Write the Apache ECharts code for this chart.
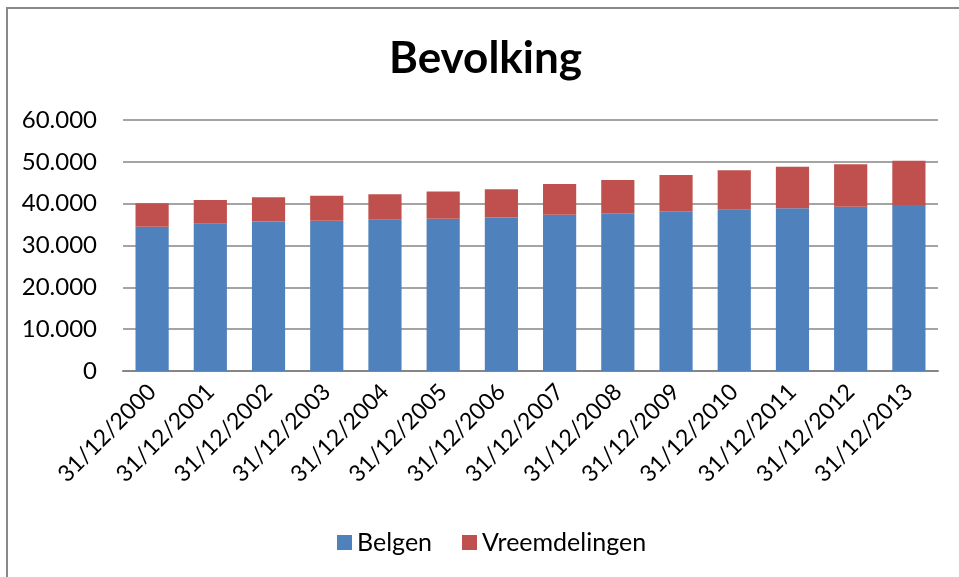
<!DOCTYPE html>
<html>
<head>
<meta charset="utf-8">
<script src="https://cdn.jsdelivr.net/npm/echarts@6/dist/echarts.min.js"></script>
<style>
  html, body { margin: 0; padding: 0; background: #fff; }
  #chart { width: 959px; height: 577px; }
</style>
</head>
<body>
<div id="chart"></div>
<script>
const categories = [
  '31/12/2000', '31/12/2001', '31/12/2002', '31/12/2003', '31/12/2004',
  '31/12/2005', '31/12/2006', '31/12/2007', '31/12/2008', '31/12/2009',
  '31/12/2010', '31/12/2011', '31/12/2012', '31/12/2013'
]
const belgen = [34490, 35210, 35760, 35920, 36160, 36400, 36720, 37370, 37680, 38160, 38570, 38880, 39290, 39670]
const vreemdelingen = [5580, 5660, 5760, 6000, 6080, 6480, 6720, 7340, 7990, 8710, 9430, 9920, 10150, 10570]

const font = 'Lato, "Open Sans", sans-serif'

// thousands separator with a dot, like the original
function fmt(v) {
  return String(v).replace(/\B(?=(\d{3})+(?!\d))/g, '.')
}

const chart = echarts.init(document.getElementById('chart'))

chart.setOption({
  animation: false,
  textStyle: { fontFamily: font },
  title: {
    text: 'Bevolking',
    left: 384,
    top: 32,
    textStyle: { fontSize: 44, fontWeight: 'bold', color: '#000', fontFamily: font },
  },
  graphic: [
    {
      type: 'rect',
      shape: { x: 7, y: 8, width: 1000, height: 1000 },
      style: { fill: 'none', stroke: '#888', lineWidth: 2 },
      silent: true,
    },
  ],
  legend: {
    bottom: 17,
    left: 332,
    itemWidth: 15,
    itemHeight: 15,
    itemGap: 30,
    icon: 'rect',
    textStyle: { fontSize: 25, color: '#000', fontFamily: font },
  },
  grid: { left: 123, right: 21, top: 120, bottom: 206 },
  xAxis: {
    type: 'category',
    data: categories,
    axisTick: { show: false },
    axisLine: { lineStyle: { color: '#868686', width: 2 } },
    axisLabel: { rotate: 45, fontSize: 23, color: '#000', margin: 17 },
  },
  yAxis: {
    type: 'value',
    min: 0,
    max: 60000,
    interval: 10000,
    axisLine: { show: false },
    axisTick: { show: false },
    axisLabel: { fontSize: 24, color: '#000', margin: 26, formatter: v => fmt(v) },
    splitLine: { lineStyle: { color: '#868686', width: 1.5 } },
  },
  series: [
    {
      name: 'Belgen',
      type: 'bar',
      stack: 'total',
      barWidth: '57%',
      data: belgen,
      itemStyle: { color: '#4F81BD' },
    },
    {
      name: 'Vreemdelingen',
      type: 'bar',
      stack: 'total',
      barWidth: '57%',
      data: vreemdelingen,
      itemStyle: { color: '#C0504D' },
    },
  ],
})
</script>
</body>
</html>
